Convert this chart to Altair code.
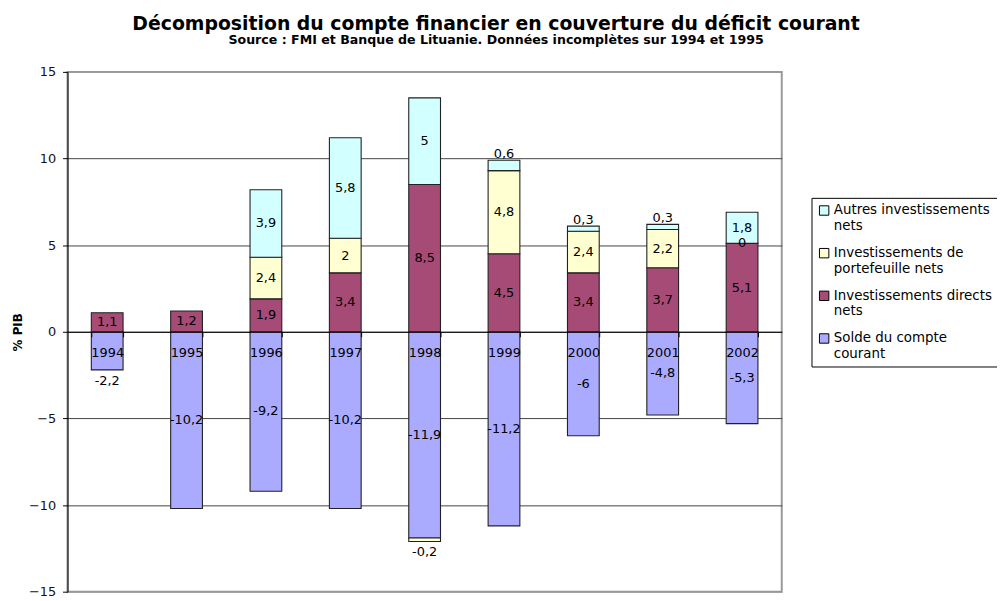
import altair as alt
import pandas as pd

years = ["1994", "1995", "1996", "1997", "1998", "1999", "2000", "2001", "2002"]
series_names = [
    "Solde du compte courant",
    "Investissements directs nets",
    "Investissements de portefeuille nets",
    "Autres investissements nets",
]
legend_lines = {
    "Autres investissements nets": ["Autres investissements", "nets"],
    "Investissements de portefeuille nets": ["Investissements de", "portefeuille nets"],
    "Investissements directs nets": ["Investissements directs", "nets"],
    "Solde du compte courant": ["Solde du compte", "courant"],
}
colors = ["#AAAAFF", "#A64A76", "#FFFFD2", "#D2FFFF"]

solde = [-2.2, -10.2, -9.2, -10.2, -11.9, -11.2, -6, -4.8, -5.3]
directs = [1.1, 1.2, 1.9, 3.4, 8.5, 4.5, 3.4, 3.7, 5.1]
portefeuille = [None, None, 2.4, 2, -0.2, 4.8, 2.4, 2.2, 0]
autres = [None, None, 3.9, 5.8, 5, 0.6, 0.3, 0.3, 1.8]

all_series = [solde, directs, portefeuille, autres]


def fmt(v):
    return f"{v:g}".replace(".", ",")


rows = []
for i, yr in enumerate(years):
    pos = 0.0
    neg = 0.0
    for k, (name, vals) in enumerate(zip(series_names, all_series)):
        v = vals[i]
        if v is None:
            continue
        if v >= 0:
            lo, hi = pos, pos + v
            pos = hi
        else:
            lo, hi = neg + v, neg
            neg = lo
        if (v != 0 and abs(v) < 1) or (yr == "1994" and k == 0):
            if v > 0:
                place, ly = "above", hi
            else:
                place, ly = "below", lo
        else:
            place, ly = "center", (lo + hi) / 2
        rows.append(dict(year=yr, series=name, order=k, value=v,
                         label=fmt(v), place=place, ly=ly))

df = pd.DataFrame(rows)

FONT = "DejaVu Sans"

label_expr = " : ".join(
    f"datum.label == '{k}' ? ['{a}', '{b}']" for k, (a, b) in legend_lines.items()
) + " : datum.label"

x_enc = alt.X(
    "year:N",
    sort=years,
    scale=alt.Scale(paddingInner=0.6, paddingOuter=0.3),
    axis=alt.Axis(
        title=None, orient="bottom", offset=-262, labelAngle=0,
        domainColor="black", domainWidth=1, tickColor="black", tickSize=5,
        tickBand="extent", labelFont=FONT, labelFontSize=13, labelColor="black",
        labelBaseline="top", labelPadding=10, zindex=2,
    ),
)

y_scale = alt.Scale(domain=[-15, 15], nice=False, zero=False)

bars = alt.Chart(df).mark_bar(stroke="#222", strokeWidth=1.1).encode(
    x=x_enc,
    y=alt.Y(
        "value:Q", stack="zero", scale=y_scale,
        axis=alt.Axis(
            title="% PIB", values=[-15, -10, -5, 0, 5, 10, 15],
            grid=True,
            gridColor=alt.condition("abs(datum.value) == 15", alt.value("#999999"), alt.value("#444444")),
            gridWidth=1,
            domainColor="black", tickColor="black", tickSize=5,
            labelFont=FONT, labelFontSize=13, labelColor="#111", labelPadding=7,
            titleFont=FONT, titleFontSize=12, titleFontWeight="bold", titleColor="black",
            titleAngle=270, titleX=-50, titleY=262, titleAlign="center", titleBaseline="middle",
        ),
    ),
    order=alt.Order("order:Q", sort="ascending"),
    color=alt.Color(
        "series:N",
        scale=alt.Scale(domain=series_names[::-1], range=colors[::-1]),
        legend=alt.Legend(
            title=None, orient="none", legendX=750, legendY=127,
            fillColor="white", strokeColor="black", padding=6,
            symbolType="square", symbolSize=90, symbolStrokeColor="black",
            symbolStrokeWidth=1, labelFont=FONT, labelFontSize=13.5,
            labelColor="black", labelLimit=400, labelExpr=label_expr,
            labelOffset=3, rowPadding=13,
        ),
    ),
)

text_base = alt.Chart(df).encode(
    x=alt.X("year:N", sort=years),
    y=alt.Y("ly:Q", scale=y_scale),
    text="label:N",
)

t_center = text_base.transform_filter("datum.place == 'center'").mark_text(
    font=FONT, fontSize=13, color="black", baseline="middle")
t_above = text_base.transform_filter("datum.place == 'above'").mark_text(
    font=FONT, fontSize=13, color="black", baseline="bottom", dy=1)
t_below = text_base.transform_filter("datum.place == 'below'").mark_text(
    font=FONT, fontSize=13, color="black", baseline="top", dy=5)

chart = alt.layer(bars, t_center, t_above, t_below).properties(
    width=720,
    height=524,
    autosize=alt.AutoSizeParams(type="none"),
    padding={"left": 60, "top": 62, "right": 217, "bottom": 7},
    title=alt.TitleParams(
        text="Décomposition du compte financier en couverture du déficit courant",
        subtitle="Source : FMI et Banque de Lituanie. Données incomplètes sur 1994 et 1995",
        font=FONT, fontSize=19, fontWeight="bold", color="black",
        subtitleFont=FONT, subtitleFontSize=12.7, subtitleFontWeight="bold",
        subtitleColor="black", anchor="middle", dx=72, offset=19, subtitlePadding=1,
    ),
).configure_view(stroke="#999999", strokeWidth=2)

chart.save("out.html", embed_options={"renderer": "svg", "actions": False})
